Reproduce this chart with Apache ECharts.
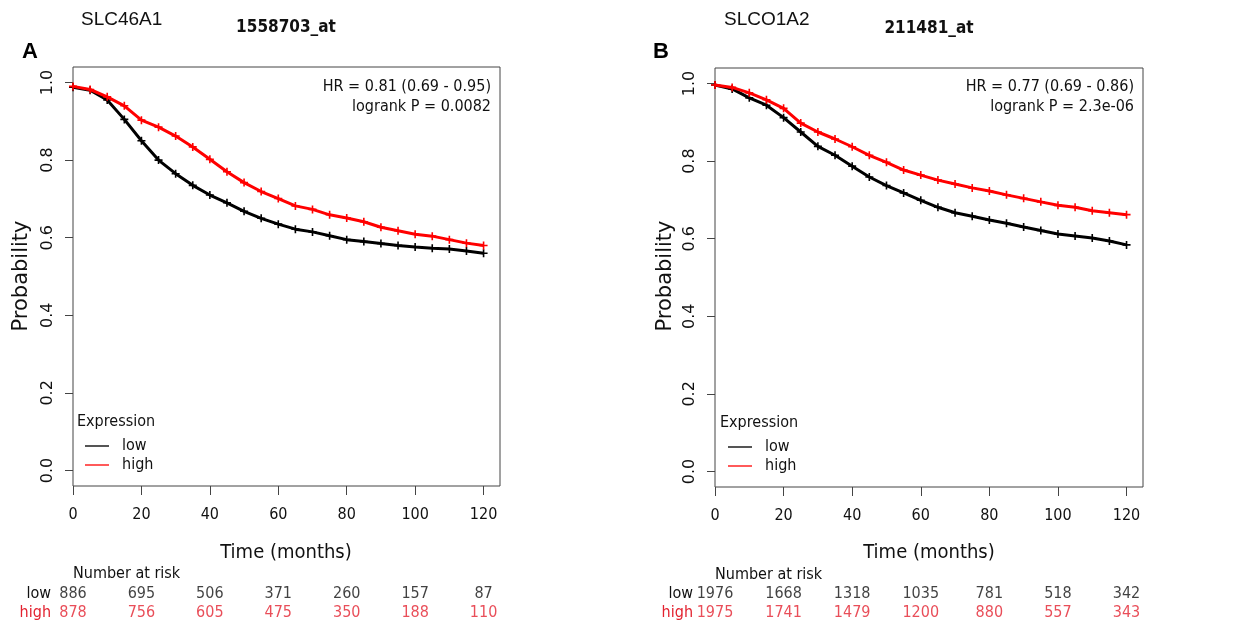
<!DOCTYPE html>
<html>
<head>
<meta charset="utf-8">
<script src="https://cdn.jsdelivr.net/npm/echarts@6/dist/echarts.min.js"></script>
<style>
  * { margin: 0; padding: 0; }
  html, body { background: #fff; }
  #km { width: 1247px; height: 625px; }
</style>
</head>
<body>
<div id="km"></div>
<script>
// time points (months) at which the curves were read
var months = [0, 5, 10, 15, 20, 25, 30, 35, 40, 45, 50, 55, 60, 65, 70, 75, 80, 85, 90, 95, 100, 105, 110, 115, 120];

// panel A  SLC46A1 / 1558703_at
var lowA  = [0.988, 0.98, 0.955, 0.905, 0.85, 0.80, 0.765, 0.735, 0.71, 0.69, 0.668, 0.65, 0.635, 0.622, 0.615, 0.605, 0.595, 0.59, 0.585, 0.58, 0.576, 0.573, 0.571, 0.566, 0.56];
var highA = [0.99, 0.982, 0.963, 0.94, 0.903, 0.885, 0.862, 0.834, 0.802, 0.77, 0.742, 0.719, 0.701, 0.682, 0.673, 0.659, 0.651, 0.641, 0.627, 0.618, 0.609, 0.604, 0.595, 0.586, 0.58];

// panel B  SLCO1A2 / 211481_at
var lowB  = [0.996, 0.986, 0.963, 0.944, 0.912, 0.875, 0.838, 0.815, 0.787, 0.759, 0.737, 0.718, 0.699, 0.681, 0.667, 0.658, 0.648, 0.64, 0.63, 0.621, 0.612, 0.607, 0.602, 0.594, 0.584];
var highB = [0.996, 0.99, 0.976, 0.958, 0.936, 0.898, 0.875, 0.857, 0.837, 0.815, 0.797, 0.777, 0.764, 0.751, 0.741, 0.731, 0.723, 0.713, 0.704, 0.695, 0.686, 0.681, 0.672, 0.667, 0.662];

// number at risk
var riskTimes = [0, 20, 40, 60, 80, 100, 120];
var riskLowA  = [886, 695, 506, 371, 260, 157, 87];
var riskHighA = [878, 756, 605, 475, 350, 188, 110];
var riskLowB  = [1976, 1668, 1318, 1035, 781, 518, 342];
var riskHighB = [1975, 1741, 1479, 1200, 880, 557, 343];

var xTicks = [0, 20, 40, 60, 80, 100, 120];
var yTicks = [0, 0.2, 0.4, 0.6, 0.8, 1.0];

var cond = "'DejaVu Sans Condensed', 'DejaVu Sans', sans-serif";
var dv = "'DejaVu Sans', sans-serif";
var arial = "'Liberation Sans', Arial, sans-serif";
var red = '#ff0000';
var tableRed = '#e3222f';
var plus = 'path://M4,0 H6 V4 H10 V6 H6 V10 H4 V6 H0 V4 H4 Z';

function zip(t, v) {
  var out = [];
  for (var i = 0; i < t.length; i++) out.push([t[i], v[i]]);
  return out;
}
function riskData(t, v, row) {
  var out = [];
  for (var i = 0; i < t.length; i++) out.push([t[i], row, v[i]]);
  return out;
}

var grids = [
  {left: 73, top: 67, width: 427, height: 419},
  {left: 715, top: 68, width: 428, height: 419},
  {left: 73, top: 584, width: 427, height: 38},
  {left: 715, top: 584, width: 428, height: 38}
];

var xAxes = [], yAxes = [];
[0, 1].forEach(function (g) {
  grids[g].show = true;
  grids[g].borderColor = '#444';
  grids[g].borderWidth = 1;
  xAxes.push({
    type: 'value', gridIndex: g, min: 0, max: 124.8,
    axisLine: {show: false, onZero: false},
    axisTick: {show: true, length: 9, customValues: xTicks, lineStyle: {color: '#444'}},
    axisLabel: {customValues: xTicks, margin: 21, fontSize: 16, fontFamily: cond, color: '#111'},
    splitLine: {show: false}
  });
  yAxes.push({
    type: 'value', gridIndex: g, min: -0.04, max: 1.04,
    axisLine: {show: false, onZero: false},
    axisTick: {show: true, length: 8, customValues: yTicks, lineStyle: {color: '#444'}},
    axisLabel: {customValues: yTicks, rotate: 90, margin: 17, fontSize: 16, fontFamily: dv, color: '#111',
      formatter: function (v) { return v.toFixed(1); }},
    splitLine: {show: false}
  });
});
[2, 3].forEach(function (g) {
  xAxes.push({type: 'value', gridIndex: g, min: 0, max: 124.8, show: false});
  yAxes.push({
    type: 'category', gridIndex: g, data: ['high', 'low'],
    axisLine: {show: false}, axisTick: {show: false},
    axisLabel: {interval: 0, margin: 22, fontSize: 16, fontFamily: cond,
      color: function (v) { return v === 'high' ? tableRed : '#111'; }}
  });
});

function kmSeries(name, idx, t, v, color) {
  return {
    name: name, type: 'line', xAxisIndex: idx, yAxisIndex: idx,
    data: zip(t, v),
    lineStyle: {color: color, width: 3},
    itemStyle: {color: color},
    symbol: plus, symbolSize: 8, showAllSymbol: true,
    animation: false, z: name === 'high' ? 3 : 2
  };
}
function riskSeries(idx, t, v, row, color) {
  return {
    type: 'scatter', xAxisIndex: idx, yAxisIndex: idx,
    data: riskData(t, v, row), symbolSize: 0, animation: false,
    label: {show: true, position: 'inside', formatter: function (p) { return p.value[2]; },
      fontSize: 16, fontFamily: cond, color: color}
  };
}

function txt(x, y, text, size, family, extra) {
  var style = {text: text, fontSize: size, fontFamily: family, fill: '#111',
    align: 'left', verticalAlign: 'middle'};
  for (var k in (extra || {})) style[k] = extra[k];
  return {type: 'text', x: x, y: y, style: style};
}

var graphics = [
  txt(81, 20, 'SLC46A1', 19, arial),
  txt(286, 28, '1558703_at', 17, cond, {fontWeight: 'bold', align: 'center'}),
  txt(22, 52, 'A', 22, arial, {fontWeight: 'bold', fill: '#000'}),
  txt(491, 87, 'HR = 0.81 (0.69 - 0.95)', 16, cond, {align: 'right'}),
  txt(491, 107, 'logrank P = 0.0082', 16, cond, {align: 'right'}),
  txt(77, 422, 'Expression', 16, cond),
  txt(286, 553, 'Time (months)', 20, cond, {align: 'center'}),
  txt(73, 574, 'Number at risk', 16, cond),

  txt(724, 20, 'SLCO1A2', 19, arial),
  txt(929, 29, '211481_at', 17, cond, {fontWeight: 'bold', align: 'center'}),
  txt(653, 52, 'B', 22, arial, {fontWeight: 'bold', fill: '#000'}),
  txt(1134, 87, 'HR = 0.77 (0.69 - 0.86)', 16, cond, {align: 'right'}),
  txt(1134, 107, 'logrank P = 2.3e-06', 16, cond, {align: 'right'}),
  txt(720, 423, 'Expression', 16, cond),
  txt(929, 553, 'Time (months)', 20, cond, {align: 'center'}),
  txt(715, 575, 'Number at risk', 16, cond)
];
[22, 666].forEach(function (x) {
  var g = txt(x, 276, 'Probability', 21, dv, {align: 'center'});
  g.rotation = Math.PI / 2;
  graphics.push(g);
});

function legendAt(left, top) {
  return {
    left: left, top: top, orient: 'vertical', padding: 0,
    itemWidth: 24, itemHeight: 2, itemGap: 3, icon: 'rect', selectedMode: false,
    data: [{name: 'low', itemStyle: {color: '#555'}}, {name: 'high', itemStyle: {color: '#ff5a5a'}}],
    textStyle: {fontSize: 16, fontFamily: cond, color: '#111', padding: [0, 0, 0, 8]}
  };
}

var chart = echarts.init(document.getElementById('km'));
chart.setOption({
  animation: false,
  backgroundColor: '#fff',
  grid: grids,
  xAxis: xAxes,
  yAxis: yAxes,
  legend: [legendAt(85, 438), legendAt(728, 439)],
  graphic: graphics,
  series: [
    kmSeries('low', 0, months, lowA, '#000'),
    kmSeries('high', 0, months, highA, red),
    kmSeries('low', 1, months, lowB, '#000'),
    kmSeries('high', 1, months, highB, red),
    riskSeries(2, riskTimes, riskLowA, 'low', '#111'),
    riskSeries(2, riskTimes, riskHighA, 'high', tableRed),
    riskSeries(3, riskTimes, riskLowB, 'low', '#111'),
    riskSeries(3, riskTimes, riskHighB, 'high', tableRed)
  ]
});
</script>
</body>
</html>
